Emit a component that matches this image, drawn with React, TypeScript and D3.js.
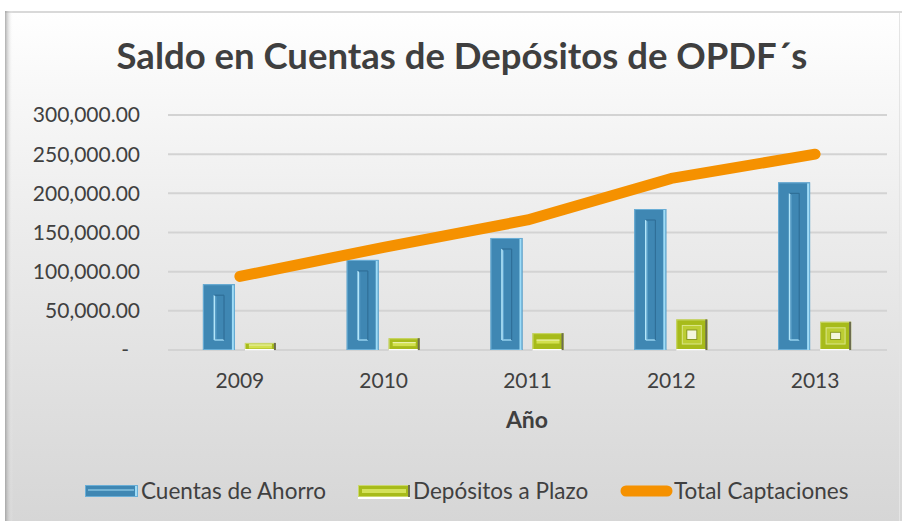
import React from "react";
import * as d3 from "d3";

const years = ["2009", "2010", "2011", "2012", "2013"];
const cuentasAhorro = [84000, 115000, 143000, 180000, 214000];
const depositosPlazo = [9000, 15000, 21500, 39000, 36000];
const totalCaptaciones = [94000, 131000, 166000, 219000, 250000];
const yTicks = [0, 50000, 100000, 150000, 200000, 250000, 300000];
const seriesNames = ["Cuentas de Ahorro", "Depósitos a Plazo", "Total Captaciones"];

const W = 902;
const H = 521;
const FONT = "Lato, 'Open Sans', sans-serif";
const TXT = "#404040";

function BlueBar({ x, y, w, h }: { x: number; y: number; w: number; h: number }) {
  const il = Math.min(11.5, w * 0.36);
  const ir = Math.min(11, w * 0.34);
  const it = Math.min(11, h * 0.3);
  const ib = Math.min(10, h * 0.3);
  return (
    <g>
      <rect x={x} y={y} width={w} height={h} fill="#3f87b3" />
      <rect x={x + 0.5} y={y + 0.5} width={w - 1} height={h - 1} fill="none" stroke="#6aaed6" strokeWidth={1} />
      <rect x={x + w - 3} y={y + 1} width={2} height={h - 1} fill="#9fdcf7" />
      {h > 20 && (
        <g>
          <line x1={x + il} y1={y + it} x2={x + il} y2={y + h - ib} stroke="#b3e6fa" strokeWidth={1.6} />
          <line x1={x + il} y1={y + h - ib} x2={x + w - ir} y2={y + h - ib} stroke="#9bd6f2" strokeWidth={1.4} />
          <line x1={x + il} y1={y + it} x2={x + w - ir} y2={y + it} stroke="#2f6f98" strokeWidth={1.2} />
          <line x1={x + w - ir} y1={y + it} x2={x + w - ir} y2={y + h - ib} stroke="#2f6f98" strokeWidth={1.2} />
          <line x1={x + il + 1.5} y1={y + it + 1.5} x2={x + il + 1.5} y2={y + h - ib - 1} stroke="#5fa3cc" strokeWidth={1} />
        </g>
      )}
    </g>
  );
}

function GreenBar({ x, y, w, h }: { x: number; y: number; w: number; h: number }) {
  const i1 = Math.min(6, h * 0.28);
  const i2 = Math.min(10, h * 0.38);
  return (
    <g>
      <rect x={x} y={y} width={w} height={h} fill="#a7bb1a" />
      <rect x={x + 0.5} y={y + 0.5} width={w - 1} height={h - 1} fill="none" stroke="#cbd86a" strokeWidth={1} />
      {h > 24 ? (
        <g>
          <rect x={x + i1} y={y + i1} width={w - 2 * i1} height={h - 2 * i1} fill="#bccd33" />
          <rect x={x + i1} y={y + i1} width={w - 2 * i1} height={h - 2 * i1} fill="none" stroke="#dbe68a" strokeWidth={1} />
          <rect x={x + i2} y={y + i2} width={w - 2 * i2} height={Math.max(2, h - 2 * i2)} fill="#8a9a20" />
          <rect x={x + i2 + 1} y={y + i2 + 1} width={w - 2 * i2 - 2} height={Math.max(1, h - 2 * i2 - 2)} fill="#f4f6dc" />
        </g>
      ) : (
        <g>
          <rect x={x + 4} y={y + h / 2 - 2} width={w - 8} height={4} fill="#d2e04e" />
          <rect x={x + 4} y={y + h / 2 - 2} width={w - 8} height={1} fill="#eef3b8" />
        </g>
      )}
      <rect x={x + w - 2} y={y} width={2} height={h} fill="#6d6d50" />
      <rect x={x} y={y + h - 1} width={w - 2} height={1.5} fill="#ffffff" />
    </g>
  );
}

export default function App() {
  const x = d3.scaleBand<string>().domain(years).range([168, 887]).paddingInner(0).paddingOuter(0);
  const xs = d3.scaleBand<string>().domain(["c", "d"]).range([0, 74]).paddingInner(0.238);
  const y = d3.scaleLinear().domain([0, 300000]).range([350, 115]);
  const fmt = d3.format(",.2f");
  const line = d3
    .line<number>()
    .x((_, i) => (x(years[i]) as number) + x.bandwidth() / 2)
    .y((d) => y(d));

  const groupStart = (yr: string) => (x(yr) as number) + x.bandwidth() / 2 - 37;

  return (
    <svg width={W} height={H} style={{ position: "absolute", left: 0, top: 0 }} xmlns="http://www.w3.org/2000/svg">
      <defs>
        <linearGradient id="bg" x1="0" y1="0" x2="0" y2="1">
          <stop offset="0" stopColor="#ffffff" />
          <stop offset="0.45" stopColor="#ebebeb" />
          <stop offset="1" stopColor="#d6d6d6" />
        </linearGradient>
        <linearGradient id="lshadow" x1="0" y1="0" x2="1" y2="0">
          <stop offset="0" stopColor="#9a9a9a" stopOpacity="0.8" />
          <stop offset="1" stopColor="#ffffff" stopOpacity="0" />
        </linearGradient>
      </defs>
      <rect x={0} y={0} width={W} height={H} fill="#ffffff" />
      <rect x={5} y={11} width={W - 5} height={H - 11} fill="url(#bg)" />
      <rect x={5} y={11} width={W - 5} height={2} fill="#d9d9d9" />
      <rect x={5} y={11} width={8} height={H - 11} fill="url(#lshadow)" />
      <rect x={899} y={13} width={1} height={H - 13} fill="#e4e4e4" />

      <text x={462} y={69} textAnchor="middle" fontFamily={FONT} fontWeight={700} fontSize={36.5} fill="#3f3f3f">
        Saldo en Cuentas de Depósitos de OPDF´s
      </text>

      {yTicks.map((t) => (
        <g key={t}>
          <line x1={168} x2={887} y1={y(t)} y2={y(t)} stroke="#d3d3d3" strokeWidth={2} />
          <text
            x={t === 0 ? 129 : 140}
            y={y(t)}
            dy="0.35em"
            textAnchor="end"
            fontFamily={FONT}
            fontSize={21}
            fill={TXT}
          >
            {t === 0 ? "-" : fmt(t)}
          </text>
        </g>
      ))}

      {years.map((yr, i) => {
        const g0 = groupStart(yr);
        const cx = g0 + (xs("c") as number);
        const dx = g0 + (xs("d") as number);
        const bw = xs.bandwidth();
        return (
          <g key={yr}>
            <BlueBar x={cx} y={y(cuentasAhorro[i])} w={bw} h={y(0) - y(cuentasAhorro[i])} />
            <GreenBar x={dx} y={y(depositosPlazo[i])} w={bw - 1} h={y(0) - y(depositosPlazo[i])} />
            <text
              x={(x(yr) as number) + x.bandwidth() / 2}
              y={381}
              dy="0.35em"
              textAnchor="middle"
              fontFamily={FONT}
              fontSize={21}
              fill={TXT}
            >
              {yr}
            </text>
          </g>
        );
      })}

      <path
        d={line(totalCaptaciones) || ""}
        fill="none"
        stroke="#f59100"
        strokeWidth={11}
        strokeLinecap="round"
        strokeLinejoin="round"
      />

      <text x={527} y={420} dy="0.35em" textAnchor="middle" fontFamily={FONT} fontWeight={700} fontSize={23} fill={TXT}>
        Año
      </text>

      {/* Legend */}
      <g>
        <rect x={85} y={485} width={53} height={12} fill="#3f87b3" />
        <rect x={85.5} y={485.5} width={52} height={11} fill="none" stroke="#6aaed6" />
        <line x1={88} x2={134} y1={490} y2={490} stroke="#a5def6" strokeWidth={1.2} />
        <rect x={135} y={486} width={2} height={10} fill="#9fdcf7" />
        <text x={141} y={491} dy="0.35em" fontFamily={FONT} fontSize={22.5} fill={TXT}>
          {seriesNames[0]}
        </text>

        <rect x={358} y={485} width={52} height={12} fill="#a7bb1a" />
        <rect x={358.5} y={485.5} width={51} height={11} fill="none" stroke="#cbd86a" />
        <rect x={362} y={489} width={44} height={4} fill="#d4e25a" />
        <rect x={408} y={485} width={2} height={12} fill="#6d6d50" />
        <rect x={358} y={497} width={52} height={2} fill="#ffffff" />
        <text x={413} y={491} dy="0.35em" fontFamily={FONT} fontSize={22.5} fill={TXT}>
          {seriesNames[1]}
        </text>

        <line x1={626} x2={667} y1={491} y2={491} stroke="#f59100" strokeWidth={11} strokeLinecap="round" />
        <text x={674} y={491} dy="0.35em" fontFamily={FONT} fontSize={22.5} fill={TXT}>
          {seriesNames[2]}
        </text>
      </g>
    </svg>
  );
}
